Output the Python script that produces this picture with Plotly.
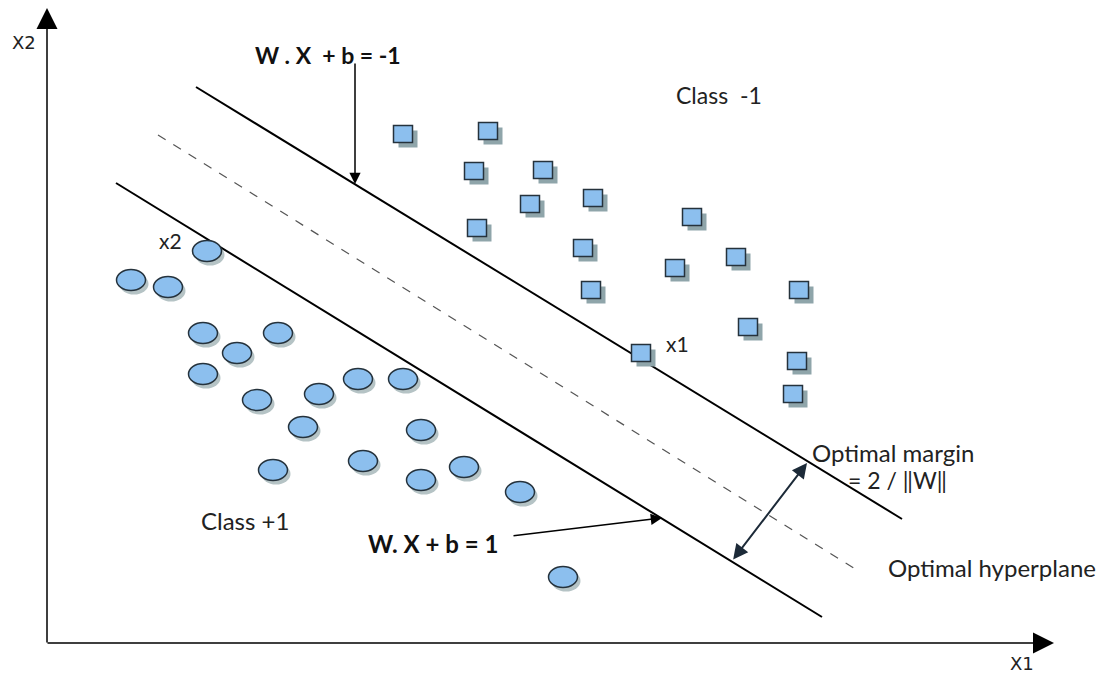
import plotly.graph_objects as go

# coordenadas en "pixeles" del diagrama (y crece hacia abajo)
clase_neg_x = [403, 488, 474, 543, 530, 593, 477, 583, 692, 675, 736, 591, 799, 748, 641, 797, 793]
clase_neg_y = [134, 131, 171, 170, 204, 198, 228, 248, 217, 268, 257, 290, 290, 327, 353, 361, 394]

clase_pos_x = [207, 131, 168, 203, 278, 237, 203, 358, 403, 257, 319, 303, 421, 273, 363, 464, 421, 520, 563]
clase_pos_y = [251, 280, 287, 333, 333, 353, 374, 379, 379, 400, 394, 427, 430, 470, 461, 467, 480, 492, 577]

# rectas: margen superior, hiperplano, margen inferior
margen_sup = [(196, 87), (902, 519)]
hiperplano = [(158, 135), (860, 572)]
margen_inf = [(116, 183), (822, 617)]

AZUL = '#8cbfee'
BORDE = '#25323c'
SOMBRA_C = 'rgba(120,145,150,0.55)'
SOMBRA_R = '#8fa5aa'

# la pagina html deja 8px de margen: se compensa en los rangos
OFF = 8

fig = go.Figure()
fig.add_trace(go.Scatter(x=[OFF, 1109 + OFF], y=[OFF, 673 + OFF], mode='markers',
                         marker=dict(opacity=0), hoverinfo='skip'))

shapes = []
# lineas
for (p0, p1), estilo in [(margen_sup, dict(color='black', width=2)),
                         (hiperplano, dict(color='#555555', width=1.2, dash='dash')),
                         (margen_inf, dict(color='black', width=2))]:
    shapes.append(dict(type='line', x0=p0[0], y0=p0[1], x1=p1[0], y1=p1[1], line=estilo, layer='below'))

# circulos (elipses) clase +1
rx, ry = 14.5, 10.5
for cx, cy in zip(clase_pos_x, clase_pos_y):
    shapes.append(dict(type='circle', x0=cx - rx + 3, x1=cx + rx + 3, y0=cy - ry + 4, y1=cy + ry + 4,
                       fillcolor=SOMBRA_C, line=dict(width=0)))
    shapes.append(dict(type='circle', x0=cx - rx, x1=cx + rx, y0=cy - ry, y1=cy + ry,
                       fillcolor=AZUL, line=dict(color=BORDE, width=1.5)))

# cuadrados clase -1
hw, hh = 9.5, 8.5
for cx, cy in zip(clase_neg_x, clase_neg_y):
    shapes.append(dict(type='rect', x0=cx - hw + 5, x1=cx + hw + 5, y0=cy - hh + 5, y1=cy + hh + 5,
                       fillcolor=SOMBRA_R, line=dict(width=0)))
    shapes.append(dict(type='rect', x0=cx - hw, x1=cx + hw, y0=cy - hh, y1=cy + hh,
                       fillcolor=AZUL, line=dict(color=BORDE, width=1.5)))

fig.update_layout(shapes=shapes)

FUENTE = 'Lato, Open Sans, sans-serif'
anots = []


def flecha(x, y, ax, ay, size=1.5, width=1.5, color='black', side='end'):
    anots.append(dict(x=x, y=y, ax=ax, ay=ay, xref='x', yref='y', axref='x', ayref='y',
                      text='', showarrow=True, arrowhead=2, arrowsize=size, arrowwidth=width,
                      arrowcolor=color, arrowside=side, startarrowhead=2, startarrowsize=size,
                      standoff=0, startstandoff=0))


# ejes
flecha(47, 8, 47, 644, size=2.8)
flecha(1054, 643, 46, 643, size=2.8)
# flechas de las ecuaciones
flecha(355, 184, 355, 62)
flecha(662, 518, 512, 536)
# margen
flecha(807, 463, 732, 561, size=1.5, width=2, color='#1c2a38', side='end+start')


def texto(t, x, y, size=23, bold=False, xanchor='left', color='#222222', fam=FUENTE):
    anots.append(dict(x=x, y=y, xref='x', yref='y', text=('<b>%s</b>' % t) if bold else t,
                      showarrow=False, xanchor=xanchor, yanchor='middle',
                      font=dict(family=fam, size=size, color=color)))


texto('X2', 24, 42, size=18, xanchor='center', fam='DejaVu Sans')
texto('X1', 1022, 663, size=18, xanchor='center', fam='DejaVu Sans')
texto('W . X  + b = -1', 253, 55, size=23, bold=True, color='#111111')
texto('Class  -1', 674, 95)
texto('x2', 157, 240, size=21)
texto('x1', 664, 343, size=21)
texto('Optimal margin', 810, 452, size=24)
texto('= 2 / ‖W‖', 846, 480, size=23)
texto('Optimal hyperplane', 886, 567, size=24)
texto('Class +1', 199, 520, size=24)
texto('W. X + b = 1', 366, 543, size=24, bold=True, color='#111111')

fig.update_layout(
    annotations=anots,
    width=1109, height=673,
    margin=dict(l=0, r=0, t=0, b=0),
    paper_bgcolor='white', plot_bgcolor='white',
    showlegend=False,
    xaxis=dict(range=[OFF, 1109 + OFF], visible=False, fixedrange=True),
    yaxis=dict(range=[673 + OFF, OFF], visible=False, fixedrange=True),
)

fig.write_html("out.html")
